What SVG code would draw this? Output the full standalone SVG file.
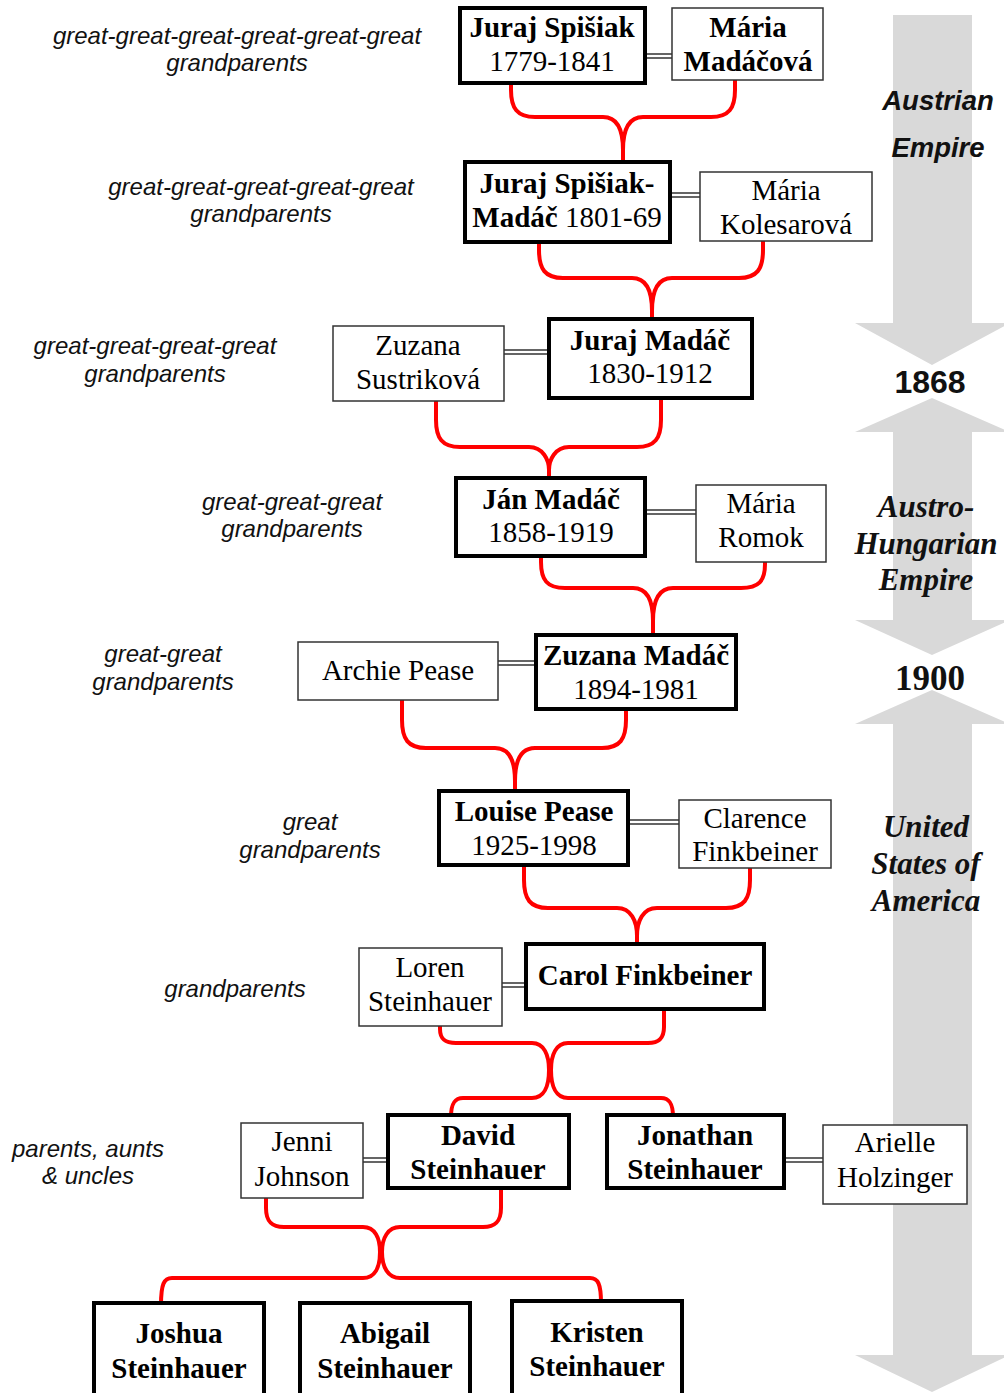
<svg xmlns="http://www.w3.org/2000/svg" width="1004" height="1393" viewBox="0 0 1004 1393">
<style>
.bg{fill:#ffffff}
.arrow{fill:#d9d9d9;stroke:none}
.lbl{font-family:"Liberation Sans",Arial,sans-serif;font-style:italic;font-size:24px;fill:#111;text-anchor:middle}
.era{font-family:"Liberation Sans",Arial,sans-serif;font-style:italic;font-weight:bold;font-size:27.5px;fill:#111;text-anchor:middle}
.era2{font-family:"Liberation Serif","Times New Roman",serif;font-style:italic;font-weight:bold;font-size:31px;fill:#111;text-anchor:middle}
.yr1{font-family:"Liberation Sans",Arial,sans-serif;font-weight:bold;font-size:32px;fill:#111;text-anchor:middle}
.yr2{font-family:"Liberation Serif","Times New Roman",serif;font-weight:bold;font-size:35px;fill:#111;text-anchor:middle}
.main rect{fill:#fff;stroke:#000;stroke-width:4}
.spouse rect{fill:#fff;stroke:#333;stroke-width:1.5}
.nt{font-family:"Liberation Serif","Times New Roman",serif;font-size:29px;fill:#000;text-anchor:middle}
.b{font-weight:bold}
.conn path{fill:none;stroke:#ff0000;stroke-width:4;stroke-linecap:butt;stroke-linejoin:round}
.dbl path{fill:none;stroke:#333;stroke-width:1.3}
</style>
<rect class="bg" x="0" y="0" width="1004" height="1393"/>

<g id="timeline">
  <polygon class="arrow" points="893,15 972,15 972,323 1010,323 932,365 855,323 893,323"/>
  <polygon class="arrow" points="932,398 1010,432 972,432 972,620 1010,620 932,655 855,620 893,620 893,432 855,432"/>
  <polygon class="arrow" points="932,690 1010,724 972,724 972,1355 1010,1355 932,1392 855,1355 893,1355 893,724 855,724"/>
  <text class="era" x="938" y="110">Austrian</text>
  <text class="era" x="938" y="157">Empire</text>
  <text class="yr1" x="930" y="393">1868</text>
  <text class="era2" x="926" y="517">Austro-</text>
  <text class="era2" x="926" y="554">Hungarian</text>
  <text class="era2" x="926" y="590">Empire</text>
  <text class="yr2" x="930" y="690">1900</text>
  <text class="era2" x="926" y="837">United</text>
  <text class="era2" x="926" y="874">States of</text>
  <text class="era2" x="926" y="911">America</text>
</g>

<g id="generation-labels">
  <text class="lbl" x="237" y="44">great-great-great-great-great-great</text>
  <text class="lbl" x="237" y="71">grandparents</text>
  <text class="lbl" x="261" y="195">great-great-great-great-great</text>
  <text class="lbl" x="261" y="222">grandparents</text>
  <text class="lbl" x="155" y="354">great-great-great-great</text>
  <text class="lbl" x="155" y="382">grandparents</text>
  <text class="lbl" x="292" y="510">great-great-great</text>
  <text class="lbl" x="292" y="537">grandparents</text>
  <text class="lbl" x="163" y="662">great-great</text>
  <text class="lbl" x="163" y="690">grandparents</text>
  <text class="lbl" x="310" y="830">great</text>
  <text class="lbl" x="310" y="858">grandparents</text>
  <text class="lbl" x="235" y="997">grandparents</text>
  <text class="lbl" x="88" y="1157">parents, aunts</text>
  <text class="lbl" x="88" y="1184">&amp; uncles</text>
</g>

<g id="connectors">
  <g class="dbl">
    <path d="M645,54 H672 M645,58 H672"/>
    <path d="M670,193 H700 M670,197 H700"/>
    <path d="M504,350 H549 M504,354 H549"/>
    <path d="M645,510 H696 M645,514 H696"/>
    <path d="M498,661 H536 M498,665 H536"/>
    <path d="M628,820 H679 M628,824 H679"/>
    <path d="M502,983 H526 M502,987 H526"/>
    <path d="M363,1158 H388 M363,1162 H388"/>
    <path d="M784,1158 H823 M784,1162 H823"/>
  </g>
  <g class="conn">
    <path d="M511,83 V90 C511,108 517,117 535,117 H603 C617,117 623,130 623,150 V162 M735,80 V90 C735,108 729,117 711,117 H643 C629,117 623,130 623,150"/>
    <path d="M539,242 V250 C539,269 545,278 563,278 H632 C646,278 652,291 652,311 V321 M763,241 V250 C763,269 757,278 739,278 H672 C658,278 652,291 652,311"/>
    <path d="M436,401 V420 C436,438 442,447 460,447 H529 C543,447 549,460 549,470 V480 M661,398 V420 C661,438 655,447 637,447 H569 C555,447 549,460 549,470"/>
    <path d="M541,556 V562 C541,580 547,588 565,588 H633 C647,588 653,601 653,621 V637 M765,562 V564 C765,581 759,588 741,588 H673 C659,588 653,601 653,621"/>
    <path d="M402,700 V720 C402,739 408,748 426,748 H495 C509,748 515,761 515,781 V793 M626,709 V720 C626,739 620,748 602,748 H535 C521,748 515,761 515,781"/>
    <path d="M524,865 V880 C524,899 530,908 548,908 H617 C631,908 637,921 637,936 V946 M750,868 V880 C750,899 744,908 726,908 H657 C643,908 637,921 637,936"/>
    <path d="M440,1026 V1029 C440,1039 445,1043 456,1043 H532 C544,1043 549,1055 549,1070 C549,1086 544,1098 532,1098 H463 C455,1098 451,1103 451,1117"/>
    <path d="M664,1009 V1027 C664,1038 659,1043 648,1043 H568 C556,1043 551,1055 551,1070 C551,1086 556,1098 568,1098 H661 C669,1098 673,1103 673,1117"/>
    <path d="M266,1198 V1208 C266,1221 271,1227 284,1227 H363 C375,1227 380,1238 380,1252 C380,1267 375,1278 363,1278 H172 C164,1278 161,1284 161,1305"/>
    <path d="M501,1188 V1208 C501,1221 496,1227 483,1227 H400 C388,1227 382,1238 382,1252 C382,1267 388,1278 400,1278 H590 C598,1278 601,1284 601,1303"/>
  </g>
</g>

<g id="juraj-spisiak" class="main"><rect x="460" y="8" width="185" height="75"/>
  <text class="nt b" x="552" y="37">Juraj Spišiak</text><text class="nt" x="552" y="71">1779-1841</text></g>
<g id="maria-madacova" class="spouse"><rect x="672" y="8" width="151" height="72"/>
  <text class="nt b" x="748" y="37">Mária</text><text class="nt b" x="748" y="71">Madáčová</text></g>

<g id="juraj-spisiak-madac" class="main"><rect x="465" y="162" width="205" height="80"/>
  <text class="nt b" x="567" y="193">Juraj Spišiak-</text><text class="nt" x="567" y="227"><tspan class="b">Madáč</tspan> 1801-69</text></g>
<g id="maria-kolesarova" class="spouse"><rect x="700" y="172" width="172" height="69"/>
  <text class="nt" x="786" y="200">Mária</text><text class="nt" x="786" y="234">Kolesarová</text></g>

<g id="zuzana-sustrikova" class="spouse"><rect x="333" y="326" width="171" height="75"/>
  <text class="nt" x="418" y="355">Zuzana</text><text class="nt" x="418" y="389">Sustriková</text></g>
<g id="juraj-madac" class="main"><rect x="549" y="319" width="203" height="79"/>
  <text class="nt b" x="650" y="350">Juraj Madáč</text><text class="nt" x="650" y="383">1830-1912</text></g>

<g id="jan-madac" class="main"><rect x="456" y="478" width="189" height="78"/>
  <text class="nt b" x="551" y="509">Ján Madáč</text><text class="nt" x="551" y="542">1858-1919</text></g>
<g id="maria-romok" class="spouse"><rect x="696" y="485" width="130" height="77"/>
  <text class="nt" x="761" y="513">Mária</text><text class="nt" x="761" y="547">Romok</text></g>

<g id="archie-pease" class="spouse"><rect x="298" y="642" width="200" height="58"/>
  <text class="nt" x="398" y="680">Archie Pease</text></g>
<g id="zuzana-madac" class="main"><rect x="536" y="635" width="200" height="74"/>
  <text class="nt b" x="636" y="665">Zuzana Madáč</text><text class="nt" x="636" y="699">1894-1981</text></g>

<g id="louise-pease" class="main"><rect x="439" y="791" width="189" height="74"/>
  <text class="nt b" x="534" y="821">Louise Pease</text><text class="nt" x="534" y="855">1925-1998</text></g>
<g id="clarence-finkbeiner" class="spouse"><rect x="679" y="800" width="152" height="68"/>
  <text class="nt" x="755" y="828">Clarence</text><text class="nt" x="755" y="861">Finkbeiner</text></g>

<g id="loren-steinhauer" class="spouse"><rect x="359" y="948" width="143" height="78"/>
  <text class="nt" x="430" y="977">Loren</text><text class="nt" x="430" y="1011">Steinhauer</text></g>
<g id="carol-finkbeiner" class="main"><rect x="526" y="944" width="238" height="65"/>
  <text class="nt b" x="645" y="985">Carol Finkbeiner</text></g>

<g id="jenni-johnson" class="spouse"><rect x="241" y="1123" width="122" height="75"/>
  <text class="nt" x="302" y="1151">Jenni</text><text class="nt" x="302" y="1186">Johnson</text></g>
<g id="david-steinhauer" class="main"><rect x="388" y="1115" width="181" height="73"/>
  <text class="nt b" x="478" y="1145">David</text><text class="nt b" x="478" y="1179">Steinhauer</text></g>
<g id="jonathan-steinhauer" class="main"><rect x="607" y="1115" width="177" height="73"/>
  <text class="nt b" x="695" y="1145">Jonathan</text><text class="nt b" x="695" y="1179">Steinhauer</text></g>
<g id="arielle-holzinger" class="spouse"><rect x="823" y="1125" width="144" height="79"/>
  <text class="nt" x="895" y="1152">Arielle</text><text class="nt" x="895" y="1187">Holzinger</text></g>

<g id="joshua-steinhauer" class="main"><rect x="94" y="1303" width="170" height="100"/>
  <text class="nt b" x="179" y="1343">Joshua</text><text class="nt b" x="179" y="1378">Steinhauer</text></g>
<g id="abigail-steinhauer" class="main"><rect x="300" y="1303" width="170" height="100"/>
  <text class="nt b" x="385" y="1343">Abigail</text><text class="nt b" x="385" y="1378">Steinhauer</text></g>
<g id="kristen-steinhauer" class="main"><rect x="512" y="1301" width="170" height="102"/>
  <text class="nt b" x="597" y="1342">Kristen</text><text class="nt b" x="597" y="1376">Steinhauer</text></g>
</svg>
